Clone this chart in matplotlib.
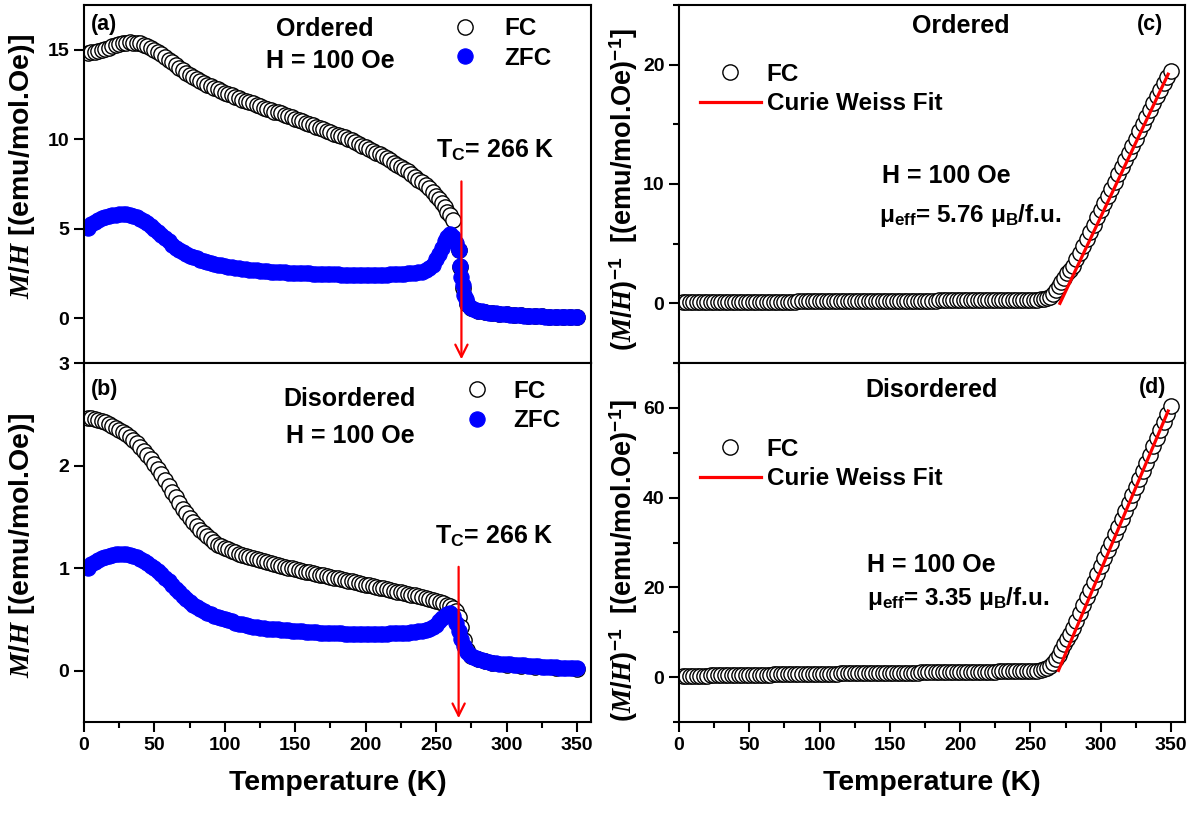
import numpy as np
import matplotlib
matplotlib.use("Agg")
import matplotlib.pyplot as plt
from matplotlib.ticker import MultipleLocator

plt.rcParams['font.family'] = ['Liberation Sans', 'DejaVu Sans']
plt.rcParams['font.weight'] = 'bold'
plt.rcParams['axes.labelweight'] = 'bold'
plt.rcParams['mathtext.fontset'] = 'custom'
plt.rcParams['mathtext.rm'] = 'Liberation Sans:bold'
plt.rcParams['mathtext.bf'] = 'Liberation Sans:bold'
plt.rcParams['mathtext.it'] = 'Liberation Serif:bold:italic'

### data (M/H in emu/mol.Oe, T in K)
# common low-T grid, 2.5 K steps up to 250 K
t_low = list(np.arange(2.5, 250.1, 2.5))

# (a) ordered
t_fc_ord = t_low + [252, 254, 256, 258, 260, 262, 266, 267, 269, 272, 275, 280, 285, 290,
                    295, 300, 305, 310, 315, 320, 325, 330, 335, 340, 345, 350]
mh_fc_ord = [14.8, 14.85, 14.9, 14.95, 15.0, 15.05, 15.12, 15.2, 15.25, 15.3,
             15.35, 15.4, 15.42, 15.4, 15.38, 15.35, 15.28, 15.2, 15.1, 15.0,
             14.88, 14.75, 14.6, 14.45, 14.3, 14.15, 14.0, 13.85, 13.72, 13.6,
             13.47, 13.35, 13.25, 13.15, 13.05, 12.95, 12.87, 12.8, 12.7, 12.6,
             12.52, 12.45, 12.37, 12.3, 12.22, 12.15, 12.07, 12.0, 11.92, 11.85,
             11.77, 11.7, 11.62, 11.55, 11.5, 11.45, 11.37, 11.3, 11.22, 11.15,
             11.07, 11.0, 10.92, 10.85, 10.77, 10.7, 10.62, 10.55, 10.47, 10.4,
             10.32, 10.25, 10.17, 10.1, 10.02, 9.95, 9.85, 9.75, 9.65, 9.55,
             9.45, 9.35, 9.25, 9.15, 9.05, 8.95, 8.82, 8.7, 8.57, 8.45,
             8.32, 8.2, 8.05, 7.9, 7.75, 7.6, 7.42, 7.25, 7.05, 6.85,
             6.65, 6.45, 6.2, 5.95, 5.75, 5.5, 3.8, 2.85, 1.7, 0.8, 0.55, 0.4, 0.34, 0.3,
             0.26, 0.22, 0.19, 0.16, 0.14, 0.12, 0.1, 0.09, 0.08, 0.07, 0.06, 0.05]
t_zfc_ord = t_low + [252, 254, 256, 258, 260, 262, 264, 266, 267, 268, 269, 270, 271, 272,
                     274, 276, 278, 280, 282.5, 285, 287.5, 290, 292.5, 295, 297.5, 300,
                     302.5, 305, 307.5, 310, 312.5, 315, 317.5, 320, 322.5, 325, 327.5,
                     330, 332.5, 335, 337.5, 340, 342.5, 345, 347.5, 350]
mh_zfc_ord = [5.05, 5.25, 5.4, 5.5, 5.58, 5.65, 5.7, 5.75, 5.78, 5.8,
              5.8, 5.8, 5.76, 5.7, 5.63, 5.55, 5.43, 5.3, 5.15, 5.0,
              4.83, 4.65, 4.48, 4.3, 4.12, 3.95, 3.82, 3.7, 3.6, 3.5,
              3.42, 3.35, 3.27, 3.2, 3.15, 3.1, 3.05, 3.0, 2.96, 2.92,
              2.89, 2.86, 2.83, 2.8, 2.77, 2.75, 2.72, 2.7, 2.68, 2.66,
              2.64, 2.63, 2.61, 2.6, 2.58, 2.57, 2.56, 2.55, 2.54, 2.53,
              2.52, 2.51, 2.5, 2.5, 2.49, 2.48, 2.47, 2.47, 2.46, 2.46,
              2.45, 2.45, 2.44, 2.44, 2.44, 2.44, 2.43, 2.43, 2.43, 2.43,
              2.43, 2.43, 2.43, 2.43, 2.44, 2.44, 2.45, 2.45, 2.46, 2.47,
              2.48, 2.5, 2.51, 2.53, 2.56, 2.6, 2.68, 2.8, 3.0, 3.3,
              3.6, 3.95, 4.3, 4.55, 4.7, 4.55, 4.2, 3.8, 2.9, 2.3, 1.85, 1.3, 1.05, 0.85,
              0.65, 0.54, 0.47, 0.42, 0.38, 0.35, 0.32, 0.3, 0.28, 0.26, 0.24, 0.22,
              0.2, 0.19, 0.17, 0.16, 0.15, 0.14, 0.13, 0.12, 0.11, 0.1, 0.095,
              0.09, 0.085, 0.08, 0.075, 0.07, 0.065, 0.06, 0.055, 0.05]

# (b) disordered
t_fc_dis = t_low + [252.5, 255, 257.5, 260, 262, 264, 266, 268, 270, 272, 275, 280, 285,
                    290, 300, 310, 320, 335, 350]
mh_fc_dis = [2.46, 2.46, 2.45, 2.44, 2.43, 2.42, 2.405, 2.39, 2.37, 2.35,
             2.33, 2.31, 2.28, 2.25, 2.22, 2.18, 2.14, 2.1, 2.06, 2.02,
             1.97, 1.92, 1.86, 1.8, 1.745, 1.69, 1.635, 1.58, 1.535, 1.49,
             1.45, 1.41, 1.375, 1.34, 1.31, 1.28, 1.255, 1.23, 1.215, 1.2,
             1.185, 1.17, 1.155, 1.14, 1.13, 1.12, 1.11, 1.1, 1.09, 1.08,
             1.07, 1.06, 1.05, 1.04, 1.03, 1.02, 1.012, 1.005, 0.997, 0.99,
             0.982, 0.975, 0.967, 0.96, 0.952, 0.945, 0.937, 0.93, 0.922, 0.915,
             0.907, 0.9, 0.892, 0.885, 0.877, 0.87, 0.862, 0.855, 0.847, 0.84,
             0.832, 0.825, 0.817, 0.81, 0.802, 0.795, 0.787, 0.78, 0.772, 0.765,
             0.757, 0.75, 0.742, 0.735, 0.727, 0.72, 0.71, 0.7, 0.69, 0.68,
             0.67, 0.66, 0.645, 0.63, 0.61, 0.58, 0.52, 0.43, 0.3, 0.2, 0.14, 0.11, 0.09,
             0.08, 0.06, 0.05, 0.04, 0.03, 0.02]
t_zfc_dis = t_low + [252, 254, 256, 258, 260, 262, 264, 266, 268, 270, 272, 274, 276, 278,
                     280, 282.5, 285, 287.5, 290, 292.5, 295, 297.5, 300, 302.5, 305,
                     307.5, 310, 312.5, 315, 317.5, 320, 322.5, 325, 327.5, 330, 332.5,
                     335, 337.5, 340, 342.5, 345, 347.5, 350]
mh_zfc_dis = [1.0, 1.04, 1.06, 1.08, 1.095, 1.11, 1.12, 1.13, 1.135, 1.14,
              1.14, 1.135, 1.13, 1.12, 1.105, 1.09, 1.07, 1.05, 1.025, 1.0,
              0.97, 0.94, 0.905, 0.87, 0.835, 0.8, 0.765, 0.73, 0.7, 0.67,
              0.645, 0.62, 0.6, 0.58, 0.565, 0.55, 0.535, 0.52, 0.51, 0.5,
              0.49, 0.48, 0.47, 0.46, 0.452, 0.445, 0.437, 0.43, 0.425, 0.42,
              0.415, 0.41, 0.407, 0.405, 0.402, 0.4, 0.397, 0.395, 0.392, 0.39,
              0.387, 0.385, 0.382, 0.38, 0.377, 0.375, 0.372, 0.37, 0.369, 0.368,
              0.366, 0.365, 0.363, 0.362, 0.361, 0.36, 0.36, 0.36, 0.36, 0.36,
              0.36, 0.36, 0.36, 0.36, 0.361, 0.362, 0.363, 0.365, 0.366, 0.368,
              0.369, 0.37, 0.375, 0.38, 0.385, 0.39, 0.4, 0.41, 0.43, 0.45,
              0.48, 0.51, 0.53, 0.55, 0.56, 0.53, 0.47, 0.39, 0.31, 0.24, 0.18, 0.15, 0.13,
              0.12, 0.11, 0.1, 0.09, 0.085, 0.08, 0.075, 0.07, 0.067, 0.065, 0.062, 0.06,
              0.057, 0.055, 0.052, 0.05, 0.047, 0.045, 0.042, 0.04, 0.037, 0.035, 0.034,
              0.033, 0.031, 0.03, 0.029, 0.028, 0.026, 0.025]

# (c) ordered, (M/H)^-1
t_inv_ord = t_low + [252.5, 255, 257.5, 260, 262, 264, 266, 268, 270, 272, 274, 276, 278,
                     280, 282.5, 285, 287.5, 290, 292.5, 295, 297.5, 300, 302.5, 305,
                     307.5, 310, 312.5, 315, 317.5, 320, 322.5, 325, 327.5, 330, 332.5,
                     335, 337.5, 340, 342.5, 345, 347.5, 350]
inv_ord = [0.08, 0.08, 0.09, 0.09, 0.09, 0.1, 0.1, 0.1, 0.1, 0.11,
           0.11, 0.11, 0.11, 0.12, 0.12, 0.12, 0.12, 0.12, 0.13, 0.13,
           0.13, 0.13, 0.13, 0.14, 0.14, 0.14, 0.14, 0.14, 0.15, 0.15,
           0.15, 0.15, 0.15, 0.16, 0.16, 0.16, 0.16, 0.16, 0.17, 0.17,
           0.17, 0.17, 0.17, 0.18, 0.18, 0.18, 0.18, 0.18, 0.19, 0.19,
           0.19, 0.19, 0.19, 0.2, 0.2, 0.2, 0.2, 0.2, 0.21, 0.21,
           0.21, 0.21, 0.21, 0.22, 0.22, 0.22, 0.22, 0.22, 0.23, 0.23,
           0.23, 0.23, 0.23, 0.24, 0.24, 0.24, 0.24, 0.24, 0.25, 0.25,
           0.25, 0.25, 0.25, 0.26, 0.26, 0.26, 0.26, 0.26, 0.27, 0.27,
           0.27, 0.27, 0.27, 0.28, 0.28, 0.28, 0.28, 0.29, 0.29, 0.3,
           0.3, 0.31, 0.33, 0.36, 0.42, 0.55, 0.8, 1.1, 1.45, 1.8, 2.15, 2.5, 2.8, 3.15,
           3.7, 4.25, 4.8, 5.4, 6.0, 6.6, 7.2, 7.8, 8.4, 9.0, 9.6, 10.2, 10.8, 11.4, 12.0,
           12.6, 13.2, 13.8, 14.4, 15.0, 15.6, 16.2, 16.8, 17.4, 17.9, 18.5, 19.0, 19.5]
fit_t_ord = [271, 348]
fit_ord = [0.0, 19.2]

# (d) disordered, (M/H)^-1
t_inv_dis = t_inv_ord
inv_dis = [0.3, 0.3, 0.31, 0.32, 0.33, 0.34, 0.35, 0.36, 0.37, 0.38,
           0.39, 0.4, 0.41, 0.42, 0.44, 0.45, 0.46, 0.47, 0.48, 0.5,
           0.51, 0.52, 0.54, 0.55, 0.56, 0.57, 0.59, 0.6, 0.61, 0.62,
           0.64, 0.65, 0.66, 0.67, 0.69, 0.7, 0.71, 0.72, 0.74, 0.75,
           0.76, 0.77, 0.78, 0.79, 0.8, 0.81, 0.82, 0.83, 0.84, 0.85,
           0.86, 0.87, 0.88, 0.89, 0.9, 0.91, 0.92, 0.93, 0.94, 0.95,
           0.96, 0.97, 0.98, 0.99, 1.0, 1.01, 1.02, 1.03, 1.04, 1.05,
           1.06, 1.07, 1.08, 1.09, 1.1, 1.11, 1.12, 1.13, 1.14, 1.15,
           1.16, 1.17, 1.18, 1.19, 1.2, 1.21, 1.22, 1.23, 1.24, 1.25,
           1.26, 1.27, 1.28, 1.29, 1.3, 1.31, 1.32, 1.33, 1.34, 1.36,
           1.38, 1.42, 1.52, 1.7, 1.95, 2.5, 3.2, 4.1, 5.0, 6.1, 7.3, 8.5, 9.6, 10.9,
           12.6, 14.3, 16.0, 17.8, 19.5, 21.3, 23.0, 24.8, 26.5, 28.3, 30.0, 31.8, 33.5,
           35.3, 37.1, 38.9, 40.6, 42.4, 44.2, 46.0, 47.8, 49.6, 51.4, 53.3, 55.1, 56.9,
           58.7, 60.5]
fit_t_dis = [270, 348]
fit_dis = [1.5, 59.3]

W, H = 1203, 813
fig = plt.figure(figsize=(W / 100, H / 100), dpi=100)

def add_ax(x0, y0, x1, y1):
    return fig.add_axes([x0 / W, 1 - y1 / H, (x1 - x0) / W, (y1 - y0) / H])

ax_a = add_ax(84, 5, 591, 363)
ax_b = add_ax(84, 363, 591, 722)
ax_c = add_ax(679, 5, 1185, 363)
ax_d = add_ax(679, 363, 1185, 722)

ms = 11
fc_kw = dict(ls='none', marker='o', ms=ms, mfc='white', mec='black', mew=1.0)
zfc_kw = dict(ls='none', marker='o', ms=ms, mfc='#0000ff', mec='#0000ff', mew=0.8)

# (a)
ax_a.plot(t_fc_ord, mh_fc_ord, label='FC', **fc_kw)
ax_a.plot(t_zfc_ord, mh_zfc_ord, label='ZFC', **zfc_kw)
ax_a.set_ylim(-2.5, 17.5)
ax_a.set_yticks([0, 5, 10, 15])

# (b)
ax_b.plot(t_fc_dis, mh_fc_dis, label='FC', **fc_kw)
ax_b.plot(t_zfc_dis, mh_zfc_dis, label='ZFC', **zfc_kw)
ax_b.set_ylim(-0.5, 3)
ax_b.set_yticks([0, 1, 2, 3])

# (c)
ax_c.plot(t_inv_ord, inv_ord, label='FC', **fc_kw)
ax_c.plot(fit_t_ord, fit_ord, color='red', lw=2.3, label='Curie Weiss Fit')
ax_c.set_ylim(-5, 25)
ax_c.yaxis.set_major_locator(MultipleLocator(10))
ax_c.yaxis.set_minor_locator(MultipleLocator(5))

# (d)
ax_d.plot(t_inv_dis, inv_dis, label='FC', **fc_kw)
ax_d.plot(fit_t_dis, fit_dis, color='red', lw=2.3, label='Curie Weiss Fit')
ax_d.set_ylim(-10, 70)
ax_d.yaxis.set_major_locator(MultipleLocator(20))
ax_d.yaxis.set_minor_locator(MultipleLocator(10))

for ax in (ax_a, ax_b, ax_c, ax_d):
    ax.set_xlim(0, 360)
    ax.xaxis.set_major_locator(MultipleLocator(50))
    ax.xaxis.set_minor_locator(MultipleLocator(25))
    ax.tick_params(which='major', direction='out', length=7, width=1.5, labelsize=14)
    ax.tick_params(which='minor', direction='out', length=4, width=1.5)
    for s in ax.spines.values():
        s.set_linewidth(1.5)
    plt.setp(ax.get_xticklabels() + ax.get_yticklabels(), fontweight='bold')

for ax in (ax_a, ax_c):
    ax.tick_params(axis='x', labelbottom=False)

# axis labels
for ax in (ax_b, ax_d):
    ax.set_xlabel('Temperature (K)', fontsize=20.5, fontweight='bold', labelpad=12)

lab_left = r'$\mathit{M/H}$ [(emu/mol.Oe)]'
lab_right = r'$\mathit{(M/H)}^{-1}$  [(emu/mol.Oe)$^{-1}$]'
for ax in (ax_a, ax_b):
    ax.set_ylabel(lab_left, fontsize=20.5, fontweight='bold')
for ax in (ax_c, ax_d):
    ax.set_ylabel(lab_right, fontsize=19.5, fontweight='bold')
ax_a.yaxis.set_label_coords(-0.093, 0.55)
ax_b.yaxis.set_label_coords(-0.093, 0.493)
ax_c.yaxis.set_label_coords(-0.077, 0.483)
ax_d.yaxis.set_label_coords(-0.077, 0.45)

# legends
fs_leg = 17.5
leg_px = fs_leg / 72 * 100
def place_legend(ax, x0, yc, hl, pad):
    ax.legend(loc='center left', bbox_to_anchor=(x0 / W, 1 - yc / H),
              bbox_transform=fig.transFigure, frameon=False, fontsize=fs_leg,
              borderpad=0, borderaxespad=0, handlelength=hl, handletextpad=pad,
              labelspacing=0.25, numpoints=1)

place_legend(ax_a, 465 - leg_px, 43.5, 2.0, 0.6)
place_legend(ax_b, 477 - leg_px, 406, 2.0, 0.5)
place_legend(ax_c, 700, 89, 2.5, 0.25)
place_legend(ax_d, 700, 464, 2.5, 0.25)

# texts
def ftext(x, y, s, size=18, ha='center', va='baseline'):
    fig.text(x / W, 1 - y / H, s, fontsize=size, ha=ha, va=va, fontweight='bold')

ftext(91, 30, '(a)', 15.5, ha='left')
ftext(325, 36, 'Ordered')
ftext(330, 68, 'H = 100 Oe')
ftext(436, 157, r'T$_\mathrm{C}$= 266 K', ha='left')

ftext(91, 395, '(b)', 15.5, ha='left')
ftext(350, 406, 'Disordered')
ftext(350, 443, 'H = 100 Oe')
ftext(435, 543, r'T$_\mathrm{C}$= 266 K', ha='left')

ftext(961, 33, 'Ordered')
ftext(1150, 30, '(c)', 15.5)
ftext(946, 183, 'H = 100 Oe')
ftext(879, 222, r'μ$_\mathrm{eff}$= 5.76 μ$_\mathrm{B}$/f.u.', 17.5, ha='left')

ftext(932, 397, 'Disordered')
ftext(1153, 393, '(d)', 15.5)
ftext(931, 572, 'H = 100 Oe')
ftext(867, 605, r'μ$_\mathrm{eff}$= 3.35 μ$_\mathrm{B}$/f.u.', 17.5, ha='left')

# Tc arrows
arr = dict(arrowstyle='->', color='red', lw=1.6, mutation_scale=22)
ax_a.annotate('', xy=(268, -2.45), xytext=(268, 7.8), arrowprops=arr, annotation_clip=False)
ax_b.annotate('', xy=(266, -0.49), xytext=(266, 1.04), arrowprops=arr, annotation_clip=False)

fig.savefig('out.png', dpi=100)
